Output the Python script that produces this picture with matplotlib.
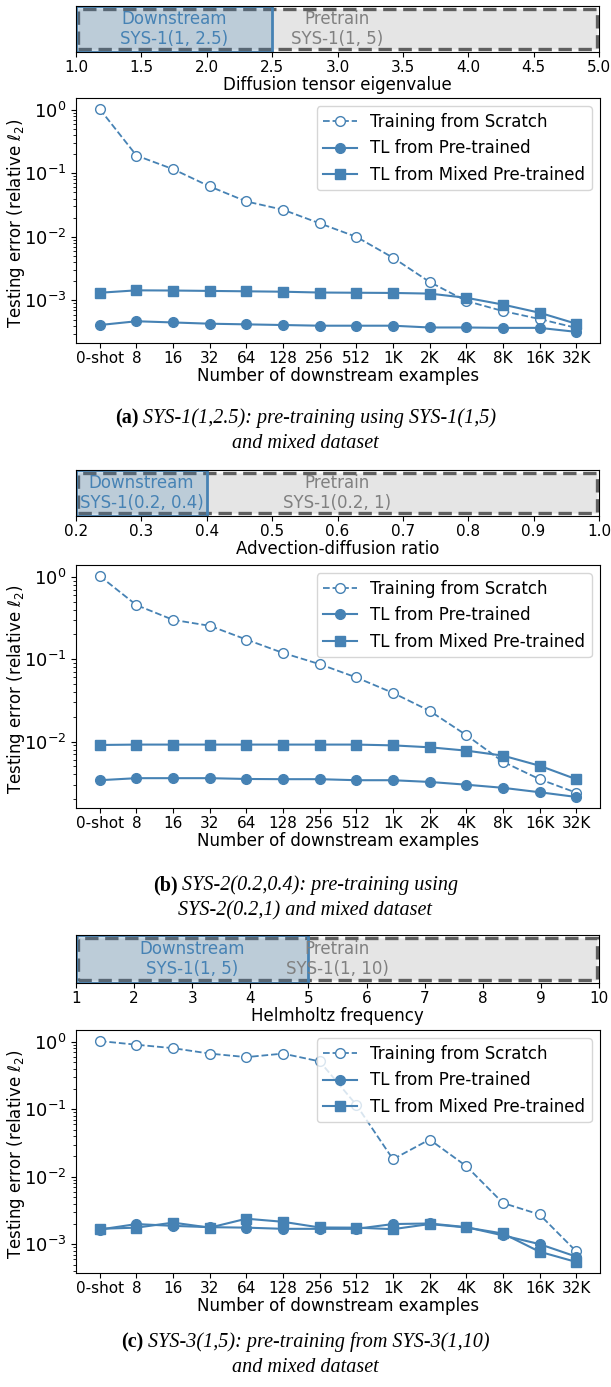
import numpy as np
import matplotlib
matplotlib.use("Agg")
import matplotlib.pyplot as plt
from matplotlib.patches import Rectangle

# x axis groups for every panel
shots = ["0-shot", "8", "16", "32", "64", "128", "256", "512", "1K", "2K", "4K", "8K", "16K", "32K"]

# (a) SYS-1(1,2.5)
a_scratch = [1.02, 0.19, 0.116, 0.062, 0.036, 0.0267, 0.0163, 0.0100, 0.0047, 0.00195, 0.00098, 0.00068, 0.00051, 0.00037]
a_pre = [0.00041, 0.00047, 0.00045, 0.00043, 0.00042, 0.00041, 0.00040, 0.00040, 0.00040, 0.000375, 0.000375, 0.00037, 0.00037, 0.00032]
a_mixed = [0.00132, 0.00144, 0.00143, 0.00141, 0.00139, 0.00137, 0.00133, 0.00132, 0.00131, 0.00128, 0.00110, 0.00086, 0.00064, 0.00043]

# (b) SYS-2(0.2,0.4)
b_scratch = [1.02, 0.453, 0.30, 0.254, 0.173, 0.119, 0.087, 0.060, 0.039, 0.0236, 0.0120, 0.0057, 0.0035, 0.0024]
b_pre = [0.0034, 0.0036, 0.0036, 0.0036, 0.00352, 0.0035, 0.0035, 0.0034, 0.0034, 0.00324, 0.0030, 0.00275, 0.00243, 0.00213]
b_mixed = [0.0091, 0.0092, 0.0092, 0.0092, 0.0092, 0.0092, 0.0092, 0.0092, 0.0090, 0.00853, 0.00777, 0.00676, 0.0051, 0.0035]

# (c) SYS-3(1,5)
c_scratch = [1.02, 0.90, 0.80, 0.665, 0.59, 0.665, 0.51, 0.116, 0.0182, 0.0356, 0.0144, 0.0041, 0.00277, 0.00079]
c_pre = [0.00166, 0.0020, 0.00188, 0.0018, 0.00177, 0.0017, 0.0017, 0.0017, 0.0020, 0.00204, 0.0018, 0.00136, 0.00101, 0.00066]
c_mixed = [0.0017, 0.00177, 0.0021, 0.00177, 0.0024, 0.00216, 0.00178, 0.00177, 0.00168, 0.0020, 0.00178, 0.00145, 0.00078, 0.00055]

# parameter ranges shown in the strips above each panel
a_range = {"down": (1.0, 2.5), "pre": (1.0, 5.0), "down_lbl": "SYS-1(1, 2.5)", "pre_lbl": "SYS-1(1, 5)",
           "xlabel": "Diffusion tensor eigenvalue", "ticks": [1.0, 1.5, 2.0, 2.5, 3.0, 3.5, 4.0, 4.5, 5.0]}
b_range = {"down": (0.2, 0.4), "pre": (0.2, 1.0), "down_lbl": "SYS-1(0.2, 0.4)", "pre_lbl": "SYS-1(0.2, 1)",
           "xlabel": "Advection-diffusion ratio", "ticks": [0.2, 0.3, 0.4, 0.5, 0.6, 0.7, 0.8, 0.9, 1.0]}
c_range = {"down": (1, 5), "pre": (1, 10), "down_lbl": "SYS-1(1, 5)", "pre_lbl": "SYS-1(1, 10)",
           "xlabel": "Helmholtz frequency", "ticks": [1, 2, 3, 4, 5, 6, 7, 8, 9, 10]}

captions = [
    ("(a)", "SYS-1(1,2.5): pre-training using SYS-1(1,5)", "and mixed dataset"),
    ("(b)", "SYS-2(0.2,0.4): pre-training using", "SYS-2(0.2,1) and mixed dataset"),
    ("(c)", "SYS-3(1,5): pre-training from SYS-3(1,10)", "and mixed dataset"),
]

W, H = 611, 1387
fig = plt.figure(figsize=(W / 100, H / 100), dpi=100)
blue = "steelblue"
cap_font = "Liberation Serif"
cap_size = 14.5


def px_axes(left, top, right, bottom):
    return fig.add_axes([left / W, 1 - bottom / H, (right - left) / W, (bottom - top) / H])


def draw_strip(ax, rng):
    lo, hi = rng["pre"]
    ax.set_xlim(lo, hi)
    ax.set_ylim(0, 1)
    span = hi - lo
    ax.add_patch(Rectangle((lo + 0.004 * span, 0.06), span * 0.992, 0.88, facecolor="#e5e5e5",
                           edgecolor="#5f5f5f", linestyle=(0, (4, 2)), linewidth=2.4))
    dlo, dhi = rng["down"]
    ax.add_patch(Rectangle((dlo, 0), dhi - dlo, 1, facecolor=(0.27, 0.51, 0.71, 0.25),
                           edgecolor=blue, linewidth=2))
    ax.text((dlo + dhi) / 2, 0.5, "Downstream\n" + rng["down_lbl"], color=blue, ha="center",
            va="center", fontsize=12, linespacing=1.1)
    ax.text((lo + hi) / 2, 0.5, "Pretrain\n" + rng["pre_lbl"], color="gray", ha="center",
            va="center", fontsize=12, linespacing=1.1)
    ax.set_yticks([])
    ax.set_xticks(rng["ticks"])
    ax.tick_params(labelsize=11, pad=2)
    ax.set_xlabel(rng["xlabel"], fontsize=12, labelpad=1)


def draw_main(ax, scratch, pre, mixed):
    x = np.arange(len(shots))
    ax.plot(x, scratch, color=blue, linestyle="--", marker="o", markerfacecolor="white",
            markersize=7, linewidth=1.3, label="Training from Scratch")
    ax.plot(x, pre, color=blue, marker="o", markersize=7, linewidth=1.5, label="TL from Pre-trained")
    ax.plot(x, mixed, color=blue, marker="s", markersize=7, linewidth=1.5, label="TL from Mixed Pre-trained")
    ax.set_yscale("log")
    ax.set_xticks(x, shots)
    ax.tick_params(axis="x", labelsize=11, pad=2)
    ax.tick_params(axis="y", labelsize=13)
    ax.set_xlabel("Number of downstream examples", fontsize=12, labelpad=1)
    ax.set_ylabel(r"Testing error (relative $\ell_2$)", fontsize=12)
    # label anchor is its right edge (rotation_mode anchor)
    ax.yaxis.set_label_coords(-0.093, 0.49)
    ax.legend(loc="upper right", fontsize=12)


panels = [
    (a_range, a_scratch, a_pre, a_mixed, (6, 52), (98, 343), (418, 444)),
    (b_range, b_scratch, b_pre, b_mixed, (470, 516), (565, 808), (885, 911)),
    (c_range, c_scratch, c_pre, c_mixed, (935, 983), (1030, 1273), (1342, 1367)),
]

cap_texts = []
for (rng, s, p, m, strip_y, main_y, cap_y), cap in zip(panels, captions):
    draw_strip(px_axes(76, strip_y[0], 599, strip_y[1]), rng)
    draw_main(px_axes(76, main_y[0], 600, main_y[1]), s, p, m)
    tag = fig.text(0.5, 1 - cap_y[0] / H, cap[0], fontweight="bold", fontsize=cap_size,
                   family=cap_font, ha="left", va="center")
    body = fig.text(0.5, 1 - cap_y[0] / H, cap[1], style="italic", fontsize=cap_size,
                    family=cap_font, ha="left", va="center")
    fig.text(0.5, 1 - cap_y[1] / H, cap[2], style="italic", fontsize=cap_size,
             family=cap_font, ha="center", va="center")
    cap_texts.append((tag, body, cap_y[0]))

# center the mixed bold/italic first caption lines
fig.canvas.draw()
r = fig.canvas.get_renderer()
for tag, body, y in cap_texts:
    w1 = tag.get_window_extent(r).width
    w2 = body.get_window_extent(r).width
    gap = 5
    x0 = (W - (w1 + gap + w2)) / 2
    tag.set_x(x0 / W)
    body.set_x((x0 + w1 + gap) / W)

fig.savefig("out.png", dpi=100)
